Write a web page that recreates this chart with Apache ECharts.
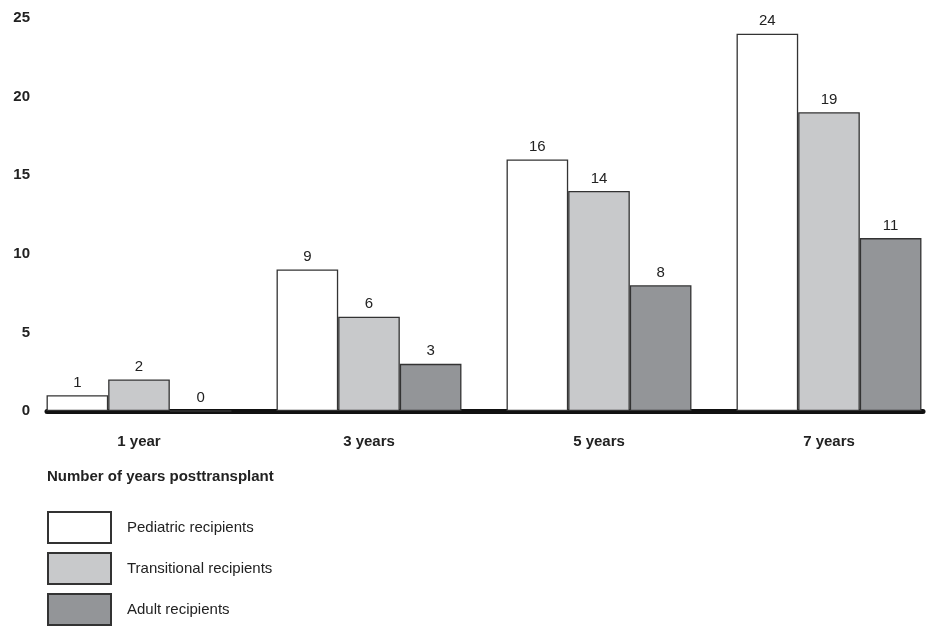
<!DOCTYPE html>
<html><head><meta charset="utf-8">
<script src="https://cdn.jsdelivr.net/npm/echarts@6/dist/echarts.min.js"></script>
<style>html,body{margin:0;padding:0;background:#fff;overflow:hidden;width:926px;height:627px}#c{position:absolute;left:-24px;top:0;width:970px;height:650px}</style>
</head><body><div id="c"></div>
<script>
var categories = ['1 year', '3 years', '5 years', '7 years'];
var pediatric = [1, 9, 16, 24];
var transitional = [2, 6, 14, 19];
var adult = [0, 3, 8, 11];
var yTicks = [0, 5, 10, 15, 20, 25];

var FONT = '"Liberation Sans", Arial, sans-serif';
var chart = echarts.init(document.getElementById('c'));
function mk(name, data, color) {
  return {
    name: name, type: 'bar', data: data, xAxisIndex: 0, yAxisIndex: 0,
    barGap: '0%', barCategoryGap: '19.6%',
    itemStyle: { color: color, borderColor: '#333', borderWidth: 1.3 },
    label: { show: true, position: 'top', distance: 5, color: '#222', fontSize: 15, fontFamily: FONT }
  };
}
chart.setOption({
  animation: false,
  textStyle: { fontFamily: FONT },
  grid: [
    { left: 48, width: 920, top: 18, bottom: 239 },
    { left: 71, width: 876, top: 18, bottom: 239 }
  ],
  xAxis: [
    { type: 'category', data: categories, gridIndex: 0,
      axisLine: { show: false }, axisTick: { show: false },
      axisLabel: { margin: 23, fontSize: 15, fontWeight: 'bold', color: '#222', fontFamily: FONT } },
    { type: 'value', gridIndex: 1, min: 0, max: 1,
      axisLine: { show: true, onZero: false, lineStyle: { color: '#111', width: 5 } },
      axisTick: { show: false }, axisLabel: { show: false }, splitLine: { show: false } }
  ],
  yAxis: [
    { type: 'value', gridIndex: 0, min: 0, max: 25, interval: 5, show: false },
    { type: 'value', gridIndex: 1, min: yTicks[0], max: yTicks[yTicks.length - 1], interval: 5,
      axisLine: { show: false }, axisTick: { show: false }, splitLine: { show: false },
      axisLabel: { margin: 17, fontSize: 15, fontWeight: 'bold', color: '#222', fontFamily: FONT } }
  ],
  title: {
    text: 'Number of years posttransplant', left: 71, top: 469, padding: 0,
    textStyle: { fontSize: 15, fontWeight: 'bold', color: '#222', fontFamily: FONT }
  },
  legend: {
    orient: 'vertical', left: 71, top: 511, padding: 0, itemWidth: 63, itemHeight: 31, itemGap: 8,
    icon: 'rect',
    textStyle: { fontSize: 15, color: '#222', fontFamily: FONT, padding: [0, 0, 0, 11] },
    data: ['Pediatric recipients', 'Transitional recipients', 'Adult recipients']
  },
  series: [
    mk('Pediatric recipients', pediatric, '#ffffff'),
    mk('Transitional recipients', transitional, '#c8c9cb'),
    mk('Adult recipients', adult, '#939598')
  ]
});
</script></body></html>
